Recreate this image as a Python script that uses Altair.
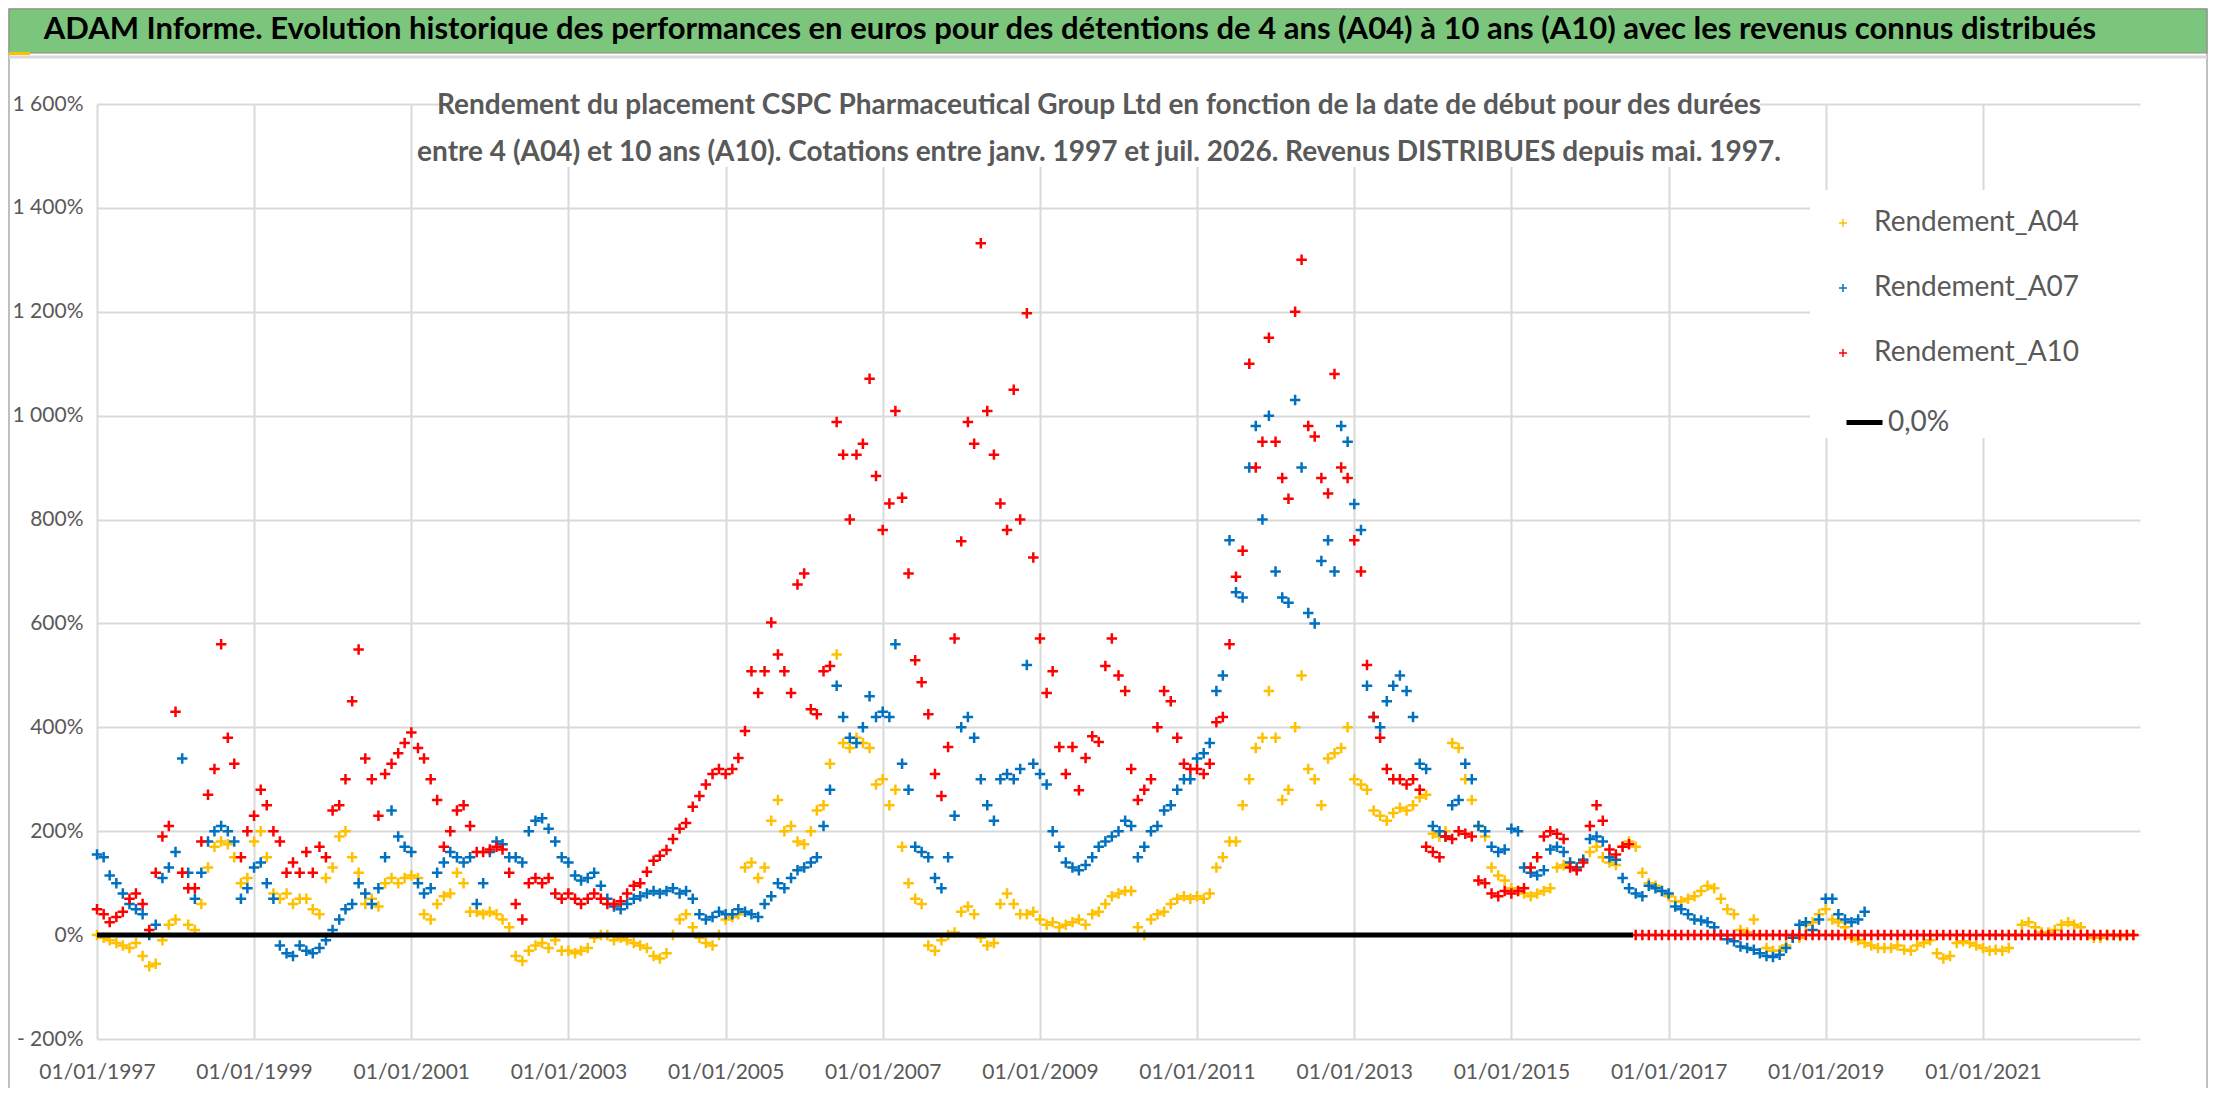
import altair as alt
import pandas as pd

FONT = "Lato, Liberation Sans, sans-serif"
GREY_TXT = "#595959"
PLUS = "M-1,0L1,0M0,-1L0,1"

TITLE = ("ADAM Informe. Evolution historique des performances en euros pour des détentions "
         "de 4 ans (A04) à 10 ans (A10) avec les revenus connus distribués")
SUBTITLE = [
    "Rendement du placement CSPC Pharmaceutical Group Ltd en fonction de la date de début pour des durées",
    "entre 4 (A04) et 10 ans (A10). Cotations entre janv. 1997 et juil. 2026. Revenus DISTRIBUES depuis mai. 1997.",
]

SERIES = ["Rendement_A04", "Rendement_A07", "Rendement_A10"]
COLORS = ["#FFC000", "#0070C0", "#FF0000"]
ZERO_LABEL = "0,0%"
START_YEAR = 1997

# monthly readings in %, first value = january 1997
a04 = [
    0, -5, -10, -15, -20, -25, -15, -40, -60, -55, -10, 20,        # 1997
    30, 120, 20, 10, 60, 130, 170, 180, 175, 150, 100, 110,        # 1998
    180, 200, 150, 80, 70, 80, 60, 70, 70, 50, 40, 110,            # 1999
    130, 190, 200, 150, 120, 60, 70, 55, 100, 110, 100, 110,       # 2000
    115, 110, 40, 30, 60, 75, 80, 120, 100, 45, 45, 40,            # 2001
    45, 40, 30, 15, -40, -50, -30, -20, -15, -25, -10, -30,        # 2002
    -30, -35, -30, -25, -5, 0, 0, -10, -5, -10, -15, -20,          # 2003
    -25, -40, -45, -35, 0, 30, 40, 15, -5, -15, -20, 0,            # 2004
    30, 35, 40, 130, 140, 110, 130, 220, 260, 200, 210, 180,       # 2005
    175, 200, 240, 250, 330, 540, 370, 360, 380, 370, 360, 290,    # 2006
    300, 250, 280, 170, 100, 70, 60, -20, -30, -10, 0, 5,          # 2007
    45, 55, 40, -5, -20, -15, 60, 80, 60, 40, 40, 45,              # 2008
    30, 20, 25, 15, 20, 25, 30, 20, 40, 45, 60, 75,                # 2009
    80, 85, 85, 15, 0, 30, 40, 45, 60, 70, 75, 70,                 # 2010
    75, 70, 80, 130, 150, 180, 180, 250, 300, 360, 380, 470,       # 2011
    380, 260, 280, 400, 500, 320, 300, 250, 340, 350, 360, 400,    # 2012
    300, 290, 280, 240, 230, 220, 235, 245, 240, 250, 265, 270,    # 2013
    195, 190, 200, 370, 360, 300, 260, 210, 190, 130, 115, 105,    # 2014
    90, 85, 80, 75, 80, 85, 90, 130, 135, 140, 130, 145,           # 2015
    160, 170, 150, 140, 135, 170, 180, 170, 120, 100, 95, 85,      # 2016
    75, 65, 65, 70, 75, 85, 95, 90, 70, 50, 40, 10,                # 2017
    5, 30, 0, -25, -30, -30, -20, -5, -5, 20, 25, 40,              # 2018
    50, 30, 25, 15, -5, -10, -15, -20, -25, -25, -25, -20,         # 2019
    -28, -30, -20, -15, -10, -35, -45, -40, -15, -12, -15, -20,    # 2020
    -25, -30, -28, -30, -25, 0, 20, 25, 15, 5, 5, 10,              # 2021
    20, 25, 20, 15, 0, -5, -5, 0, 0, -2, 0, 0,                     # 2022
]

a07 = [
    155, 150, 115, 100, 80, 60, 50, 40, 0, 20, 110, 130,           # 1997
    160, 340, 120, 70, 120, 180, 200, 210, 200, 180, 70, 90,       # 1998
    130, 140, 100, 70, -20, -35, -40, -20, -30, -35, -25, -10,     # 1999
    10, 30, 50, 60, 100, 80, 60, 90, 150, 240, 190, 170,           # 2000
    160, 100, 80, 90, 120, 140, 160, 150, 140, 150, 60, 100,       # 2001
    160, 180, 175, 150, 150, 140, 200, 220, 225, 205, 180, 150,    # 2002
    140, 115, 105, 110, 120, 95, 70, 55, 50, 60, 70, 75,           # 2003
    80, 85, 80, 85, 90, 80, 85, 70, 40, 30, 35, 45,                # 2004
    40, 40, 50, 45, 40, 35, 60, 75, 100, 90, 110, 125,             # 2005
    130, 140, 150, 210, 280, 480, 420, 380, 370, 400, 460, 420,    # 2006
    430, 420, 560, 330, 280, 170, 160, 150, 110, 90, 150, 230,     # 2007
    400, 420, 380, 300, 250, 220, 300, 310, 300, 320, 520, 330,    # 2008
    310, 290, 200, 170, 140, 130, 125, 135, 150, 170, 180, 190,    # 2009
    200, 220, 210, 150, 170, 200, 210, 240, 250, 280, 300, 300,    # 2010
    340, 350, 370, 470, 500, 760, 660, 650, 900, 980, 800, 1000,   # 2011
    700, 650, 640, 1030, 900, 620, 600, 720, 760, 700, 980, 950,   # 2012
    830, 780, 480, 420, 400, 450, 480, 500, 470, 420, 330, 320,    # 2013
    210, 200, 190, 250, 260, 330, 300, 210, 200, 170, 160, 165,    # 2014
    205, 200, 130, 120, 115, 125, 165, 170, 160, 140, 130, 145,    # 2015
    185, 190, 180, 150, 145, 110, 90, 80, 75, 95, 90, 85,          # 2016
    80, 55, 50, 40, 30, 28, 25, 15, 0, -8, -12, -22,               # 2017
    -25, -28, -35, -40, -42, -38, -25, -5, 20, 25, 10, 30,         # 2018
    70, 70, 40, 30, 25, 30, 45,                                    # 2019
]

a10 = [
    50, 40, 25, 35, 45, 70, 80, 60, 10, 120, 190, 210,             # 1997
    430, 120, 90, 90, 180, 270, 320, 560, 380, 330, 150, 200,      # 1998
    230, 280, 250, 200, 180, 120, 140, 120, 160, 120, 170, 150,    # 1999
    240, 250, 300, 450, 550, 340, 300, 230, 310, 330, 350, 370,    # 2000
    390, 360, 340, 300, 260, 170, 200, 240, 250, 210, 160, 160,    # 2001
    165, 170, 165, 120, 60, 30, 100, 110, 100, 110, 80, 70,        # 2002
    80, 70, 60, 70, 80, 70, 60, 60, 65, 80, 95, 100,               # 2003
    122, 143, 153, 164, 185, 205, 216, 247, 268, 290, 310, 320,    # 2004
    310, 320, 341, 393, 508, 466, 508, 602, 540, 508, 466, 675,    # 2005
    696, 435, 425, 508, 518, 988, 925, 800, 925, 946, 1071, 884,   # 2006
    780, 831, 1009, 842, 696, 529, 487, 425, 310, 268, 362, 571,   # 2007
    758, 988, 946, 1332, 1009, 925, 831, 780, 1050, 800, 1197, 727,  # 2008
    571, 466, 508, 362, 310, 362, 279, 341, 383, 372, 518, 571,    # 2009
    500, 470, 320, 260, 280, 300, 400, 470, 450, 380, 330, 320,    # 2010
    320, 310, 330, 410, 420, 560, 690, 740, 1100, 900, 950, 1150,  # 2011
    950, 880, 840, 1200, 1300, 980, 960, 880, 850, 1080, 900, 880,  # 2012
    760, 700, 520, 420, 380, 320, 300, 300, 290, 300, 280, 170,    # 2013
    160, 150, 190, 185, 200, 195, 190, 105, 100, 80, 75, 85,       # 2014
    80, 85, 90, 130, 150, 190, 200, 195, 185, 130, 125, 140,       # 2015
    210, 250, 220, 165, 155, 170, 175, 0, 0, 0, 0, 0,              # 2016
    0, 0, 0, 0, 0, 0, 0, 0, 0, 0, 0, 0,                            # 2017
    0, 0, 0, 0, 0, 0, 0, 0, 0, 0, 0, 0,                            # 2018
    0, 0, 0, 0, 0, 0, 0, 0, 0, 0, 0, 0,                            # 2019
    0, 0, 0, 0, 0, 0, 0, 0, 0, 0, 0, 0,                            # 2020
    0, 0, 0, 0, 0, 0, 0, 0, 0, 0, 0, 0,                            # 2021
    0, 0, 0, 0, 0, 0, 0, 0, 0, 0, 0, 0,                            # 2022
]

zero_dates = ["1997-01-01", "2016-07-20"]
zero_values = [0, 0]

y_ticks = list(range(-200, 1601, 200))
x_tick_years = list(range(1997, 2022, 2))


def month_str(i):
    return f"{START_YEAR + i // 12}-{i % 12 + 1:02d}-01"


rows = []
for name, vals in zip(SERIES, [a04, a07, a10]):
    for i, v in enumerate(vals):
        rows.append({"date": month_str(i), "valeur": v, "serie": name})
df = pd.DataFrame(rows)
zero_df = pd.DataFrame({"date": zero_dates, "valeur": zero_values, "serie": ZERO_LABEL})
one = pd.DataFrame({"k": [0]})


def utc_day(y):
    return alt.DateTime(year=y, month=1, date=1, utc=True)


x_enc = alt.X(
    "date:T",
    scale=alt.Scale(type="utc", domain=[utc_day(1997), utc_day(2023)]),
    axis=alt.Axis(values=[utc_day(y) for y in x_tick_years],
                  labelExpr="utcFormat(datum.value, '%d/%m/%Y')",
                  title=None, labelFontSize=21, labelPadding=22,
                  labelFlush=False, labelOverlap=False),
)
y_enc = alt.Y(
    "valeur:Q",
    scale=alt.Scale(domain=[-200, 1600], nice=False),
    axis=alt.Axis(values=y_ticks, title=None, labelFontSize=21, labelPadding=14,
                  labelExpr="(datum.value >= 1000 ? floor(datum.value / 1000) + ' ' + "
                            "substring(toString(datum.value), 1) : datum.value < 0 ? "
                            "'- ' + abs(datum.value) : toString(datum.value)) + '%'"),
)

# decoration: frame, green title band
frame = alt.Chart(one).mark_rect(fillOpacity=0, stroke="#BFBFBF", strokeWidth=2).encode(
    x=alt.value(-88), x2=alt.value(2110), y=alt.value(-95), y2=alt.value(990))
band = alt.Chart(one).mark_rect(color="#7CC57D", stroke="#8C8C8C", strokeWidth=1).encode(
    x=alt.value(-88), x2=alt.value(2110), y=alt.value(-95), y2=alt.value(-51))
sep = alt.Chart(one).mark_rule(color="#D9D9D9", strokeWidth=3).encode(
    x=alt.value(-88), x2=alt.value(2110), y=alt.value(-47))
mark_y = alt.Chart(one).mark_rect(color="#FFC000").encode(
    x=alt.value(-88), x2=alt.value(-67), y=alt.value(-52), y2=alt.value(-49))
title = alt.Chart(one).mark_text(
    text=TITLE, font=FONT, fontSize=31, fontWeight="bold", color="black",
    align="center", baseline="middle").encode(x=alt.value(973), y=alt.value(-74))

# white boxes behind subtitle and legend
sub_box = alt.Chart(one).mark_rect(color="white").encode(
    x=alt.value(352), x2=alt.value(1663), y=alt.value(-19), y2=alt.value(63))
leg_box = alt.Chart(one).mark_rect(color="white").encode(
    x=alt.value(1713), x2=alt.value(2051), y=alt.value(86), y2=alt.value(334))
sub1 = alt.Chart(one).mark_text(
    text=SUBTITLE[0], font=FONT, fontSize=28, fontWeight="bold", color=GREY_TXT,
    align="center", baseline="middle").encode(x=alt.value(1002), y=alt.value(2))
sub2 = alt.Chart(one).mark_text(
    text=SUBTITLE[1], font=FONT, fontSize=28, fontWeight="bold", color=GREY_TXT,
    align="center", baseline="middle").encode(x=alt.value(1002), y=alt.value(49))

points = alt.Chart(df).mark_point(shape=PLUS, filled=False, size=110, strokeWidth=2.5, opacity=1).encode(
    x=x_enc,
    y=y_enc,
    color=alt.Color("serie:N", scale=alt.Scale(domain=SERIES, range=COLORS),
                    legend=alt.Legend(title=None, orient="none", legendX=1732, legendY=105,
                                      symbolType=PLUS, symbolSize=64, symbolStrokeWidth=1.5,
                                      labelFont=FONT, labelFontSize=28, labelColor=GREY_TXT,
                                      labelLimit=400, rowPadding=37, labelOffset=17, padding=0)),
)

zero_line = alt.Chart(zero_df).mark_line(strokeWidth=5).encode(
    x="date:T",
    y="valeur:Q",
    stroke=alt.Stroke("serie:N", scale=alt.Scale(domain=[ZERO_LABEL], range=["#000000"]),
                      legend=alt.Legend(title=None, orient="none", legendX=1747, legendY=298,
                                        symbolType="stroke", symbolSize=1296, symbolStrokeWidth=5,
                                        labelFont=FONT, labelFontSize=28, labelColor=GREY_TXT,
                                        labelLimit=400, labelOffset=3, padding=0)),
)

chart = alt.layer(
    frame, band, sep, mark_y, title, sub_box, leg_box, sub1, sub2, points, zero_line
).properties(
    width=2043,
    height=935,
    autosize=alt.AutoSizeParams(type="none"),
    padding={"left": 89, "top": 96, "right": 68, "bottom": 49},
).configure_view(
    strokeWidth=0
).configure_axis(
    labelFont=FONT, labelColor=GREY_TXT, gridColor="#D9D9D9", gridWidth=2,
    ticks=False, tickSize=0, domain=False,
)

chart.save("out.html", embed_options={"renderer": "svg", "actions": False})
